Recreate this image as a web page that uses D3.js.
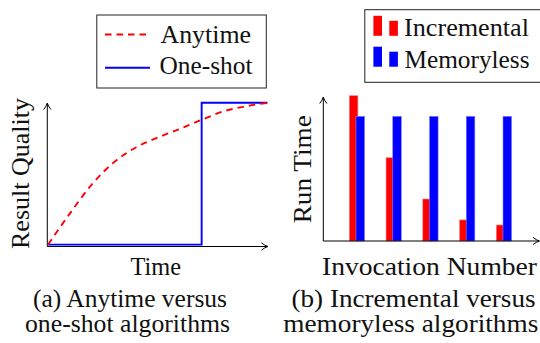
<!DOCTYPE html>
<html><head><meta charset="utf-8">
<script src="https://cdn.jsdelivr.net/npm/d3@7"></script>
<style>
html,body{margin:0;padding:0;background:#fff;}
svg{display:block;}
</style></head>
<body>
<svg id="chart" width="540" height="343"></svg>
<script>
// ---- data ----
const anytimeTime    = [0, 1, 2, 3, 4, 5, 6, 7, 8, 9, 10];
const anytimeQuality = [0, 0.22, 0.425, 0.58, 0.685, 0.755, 0.815, 0.88, 0.94, 0.975, 1.0];
const oneShotTime    = [0, 7, 7, 10];
const oneShotQuality = [0, 0, 1, 1];

const invocations        = [1, 2, 3, 4, 5];
const incrementalRunTime = [1.0, 0.573, 0.289, 0.145, 0.110];
const memorylessRunTime  = [0.858, 0.858, 0.858, 0.858, 0.858];

const legendA = ["Anytime", "One-shot"];
const legendB = ["Incremental", "Memoryless"];
const axisLabelsA = ["Time", "Result Quality"];
const axisLabelsB = ["Invocation Number", "Run Time"];
const captionA = ["(a) Anytime versus", "one-shot algorithms"];
const captionB = ["(b) Incremental versus", "memoryless algorithms"];

const RED = "#ff0000", BLUE = "#0000ff";
const FS = 24.5;

const svg = d3.select("#chart");

function txt(g, s, x, y, len, opts = {}) {
  const t = g.append("text").attr("x", x).attr("y", y)
    .style("font-family", "Liberation Serif").style("font-size", (opts.fs || FS) + "px")
    .attr("fill", "#111").text(s);
  if (len) t.attr("textLength", len).attr("lengthAdjust", "spacingAndGlyphs");
  if (opts.rotate) t.attr("transform", `rotate(-90 ${x} ${y})`);
  return t;
}
function arrowRight(g, x, y) {
  g.append("path").attr("d", `M${x-6.5},${y-3.6} Q${x-3},${y-0.8} ${x},${y} Q${x-3},${y+0.8} ${x-6.5},${y+3.6}`)
    .attr("fill", "none").attr("stroke", "#000").attr("stroke-width", 1);
}
function arrowUp(g, x, y) {
  g.append("path").attr("d", `M${x-3.6},${y+6.5} Q${x-0.8},${y+3} ${x},${y} Q${x+0.8},${y+3} ${x+3.6},${y+6.5}`)
    .attr("fill", "none").attr("stroke", "#000").attr("stroke-width", 1);
}

// ================= Panel (a) =================
const ga = svg.append("g");
const xa = d3.scaleLinear().domain([0, 10]).range([48, 267.5]);
const ya = d3.scaleLinear().domain([0, 1]).range([244.6, 102.8]);

ga.append("line").attr("x1", 47.3).attr("y1", 246.5).attr("x2", 267.5).attr("y2", 246.5)
  .attr("stroke", "#000").attr("stroke-width", 1);
ga.append("line").attr("x1", 47.3).attr("y1", 246.5).attr("x2", 47.3).attr("y2", 103.5)
  .attr("stroke", "#000").attr("stroke-width", 1);
arrowRight(ga, 268, 246.5);
arrowUp(ga, 47.3, 103);

const lineA = d3.line().x(d => xa(d[0])).y(d => ya(d[1]));
ga.append("path")
  .datum(oneShotTime.map((t, i) => [t, oneShotQuality[i]]))
  .attr("d", lineA).attr("fill", "none").attr("stroke", BLUE).attr("stroke-width", 1.9);
ga.append("path")
  .datum(anytimeTime.map((t, i) => [t, anytimeQuality[i]]))
  .attr("d", lineA.curve(d3.curveMonotoneX)).attr("fill", "none").attr("stroke", RED)
  .attr("stroke-width", 1.9).attr("stroke-dasharray", "6.5,5");

// legend (a)
ga.append("rect").attr("x", 96.8).attr("y", 15).attr("width", 169.5).attr("height", 73)
  .attr("fill", "#fff").attr("stroke", "#222").attr("stroke-width", 1);
ga.append("line").attr("x1", 105).attr("x2", 150).attr("y1", 34.5).attr("y2", 34.5)
  .attr("stroke", RED).attr("stroke-width", 1.9).attr("stroke-dasharray", "6.5,5");
ga.append("line").attr("x1", 105).attr("x2", 150).attr("y1", 67.8).attr("y2", 67.8)
  .attr("stroke", BLUE).attr("stroke-width", 1.9);
txt(ga, legendA[0], 160.5, 42.7, 90.5);
txt(ga, legendA[1], 159.5, 74.2, 93);

txt(ga, axisLabelsA[0], 130.5, 275, 50.5);
txt(ga, axisLabelsA[1], 29, 249, 151, { rotate: true });

txt(ga, captionA[0], 33, 306.7, 194);
txt(ga, captionA[1], 25, 331.7, 205);

// ================= Panel (b) =================
const gb = svg.append("g");
const xb = d3.scalePoint().domain(invocations).range([357, 504]);
const yb = d3.scaleLinear().domain([0, 1]).range([241, 95.7]);
const BW = 8.6;

gb.selectAll("rect.inc").data(invocations).join("rect").attr("class", "inc")
  .attr("x", d => xb(d) - 7.7).attr("width", BW)
  .attr("y", (d, i) => yb(incrementalRunTime[i]))
  .attr("height", (d, i) => yb(0) - yb(incrementalRunTime[i]))
  .attr("fill", RED).attr("stroke", "#ff8080").attr("stroke-width", 0.6);
gb.selectAll("rect.mem").data(invocations).join("rect").attr("class", "mem")
  .attr("x", d => xb(d) - 1).attr("width", BW)
  .attr("y", (d, i) => yb(memorylessRunTime[i]))
  .attr("height", (d, i) => yb(0) - yb(memorylessRunTime[i]))
  .attr("fill", BLUE).attr("stroke", "#8080ff").attr("stroke-width", 0.6);

gb.append("line").attr("x1", 323.3).attr("y1", 241).attr("x2", 539).attr("y2", 241)
  .attr("stroke", "#000").attr("stroke-width", 1);
gb.append("line").attr("x1", 323.3).attr("y1", 241).attr("x2", 323.3).attr("y2", 97.5)
  .attr("stroke", "#000").attr("stroke-width", 1);
arrowRight(gb, 539.5, 241);
arrowUp(gb, 323.3, 97);

// legend (b)
gb.append("rect").attr("x", 364.8).attr("y", 9.7).attr("width", 180).attr("height", 72.6)
  .attr("fill", "#fff").attr("stroke", "#222").attr("stroke-width", 1);
const legColors = [RED, BLUE];
const legBase = [35.8, 66.7];
legColors.forEach((c, i) => {
  const b = legBase[i];
  gb.append("rect").attr("x", 373.4).attr("width", BW).attr("y", b - 20).attr("height", 20).attr("fill", c);
  gb.append("rect").attr("x", 389.3).attr("width", BW).attr("y", b - 15).attr("height", 15).attr("fill", c);
});
txt(gb, legendB[0], 404, 36, 125);
txt(gb, legendB[1], 404.5, 67.7, 125);

txt(gb, axisLabelsB[0], 322, 275, 215);
txt(gb, axisLabelsB[1], 311, 223.3, 108, { rotate: true });

txt(gb, captionB[0], 291.5, 306.7, 244);
txt(gb, captionB[1], 283.3, 331.7, 255);
</script>
</body></html>
